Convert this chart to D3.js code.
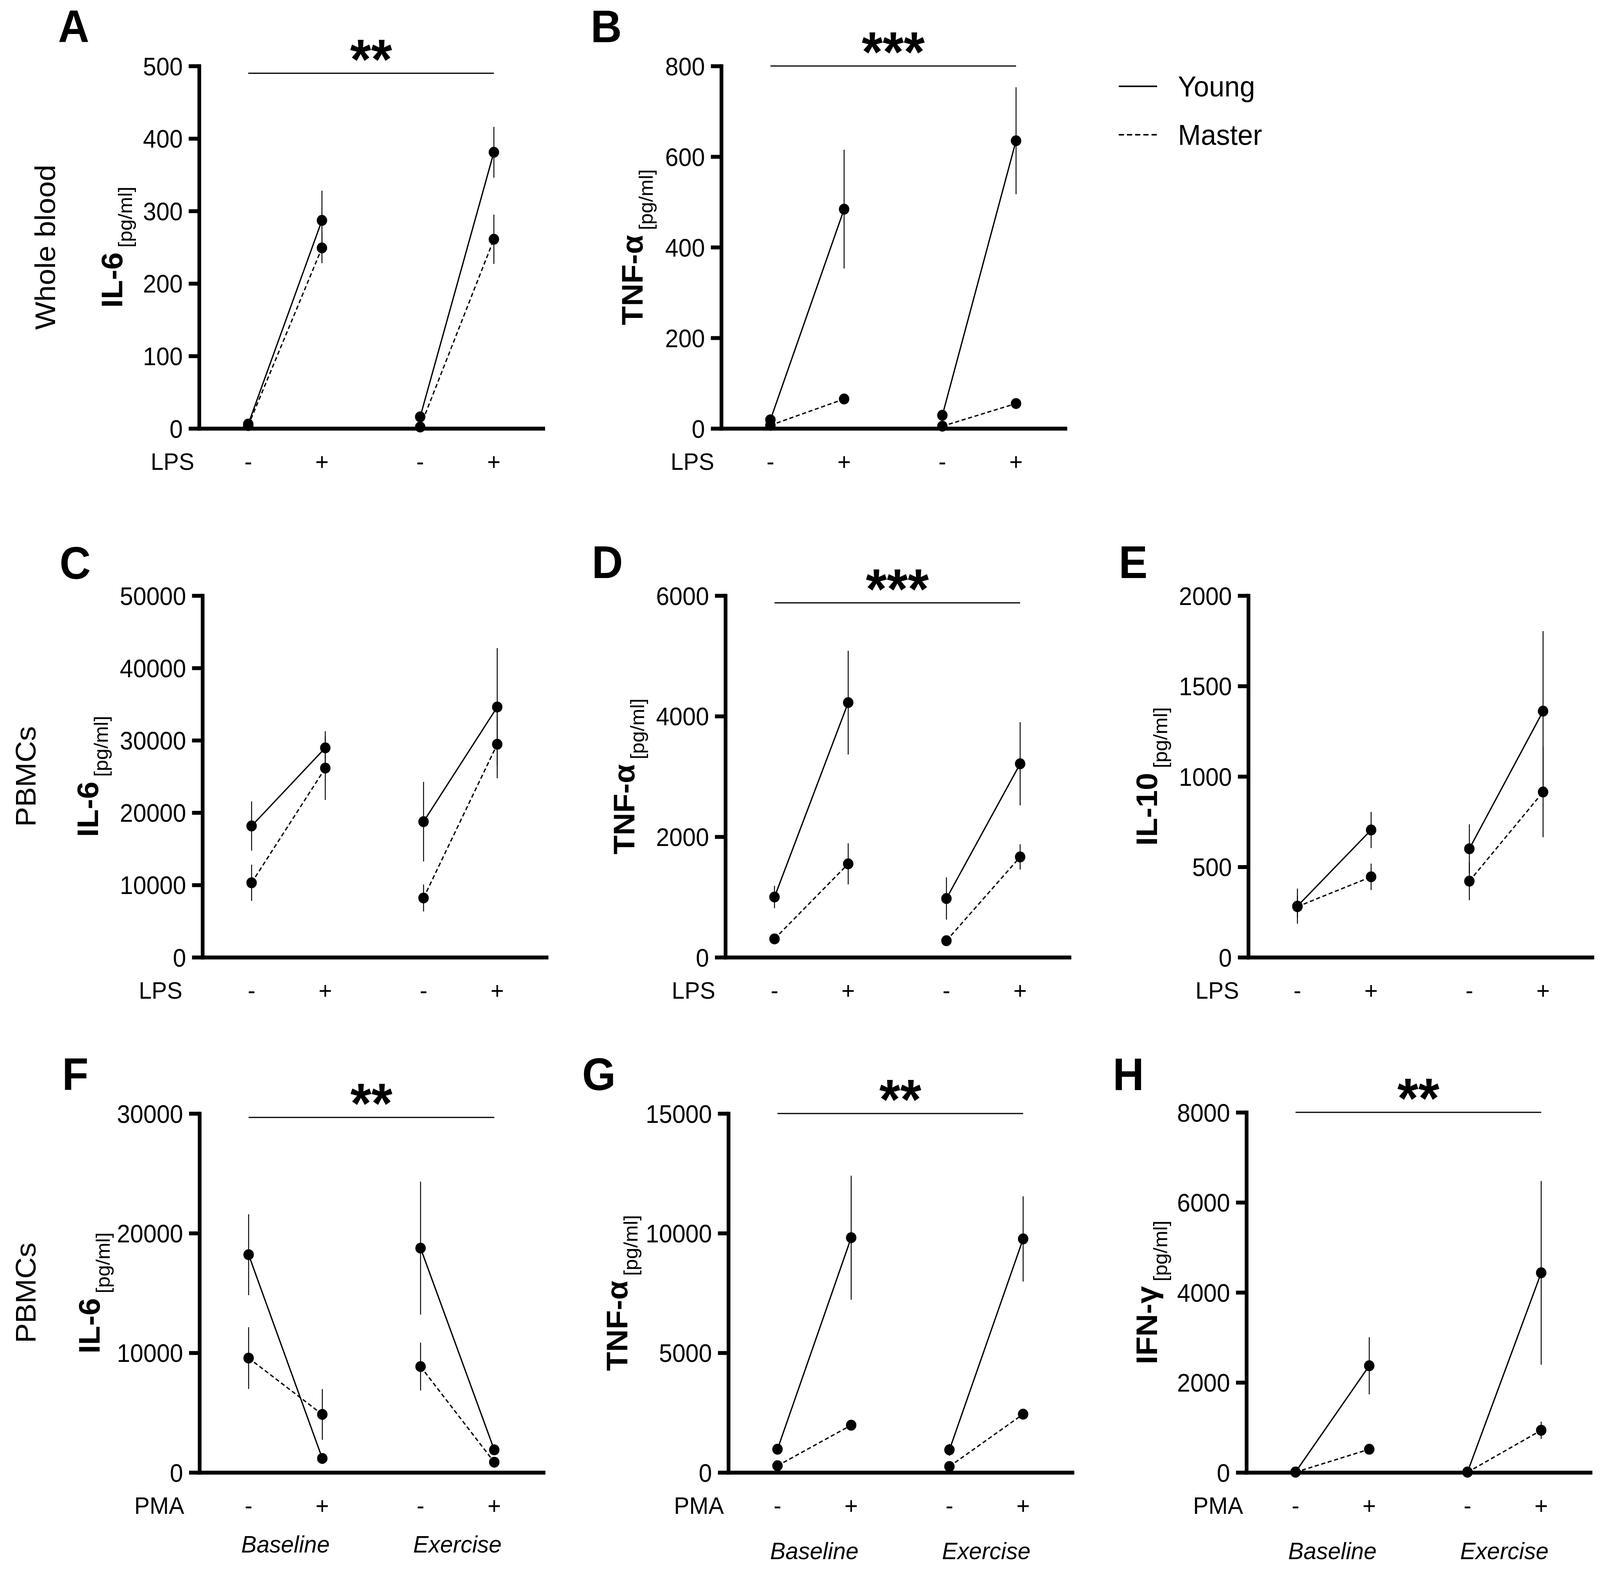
<!DOCTYPE html>
<html>
<head>
<meta charset="utf-8">
<script src="https://cdn.jsdelivr.net/npm/d3@7"></script>
<style>
  html, body { margin: 0; padding: 0; overflow: hidden; background: #fff; }
  svg { display: block; width: 100vw; height: 100vh; font-family: 'Liberation Sans', Arial, Helvetica, sans-serif; }
</style>
</head>
<body>
<div id="chart"></div>
<script>
// categories shared by every panel
const conditions = ['-', '+', '-', '+'];
const sessions = ['Baseline', 'Exercise'];
const groups = ['Young', 'Master'];

// A: IL-6, whole blood, LPS
const aYoung = [6, 287, 16, 381];
const aYoungSem = [3, 41, 4, 35];
const aMaster = [4, 249, 2, 261];
const aMasterSem = [2, 21, 1, 34];
const aTicks = [0, 100, 200, 300, 400, 500];

// B: TNF-α, whole blood, LPS
const bYoung = [19, 484, 29, 635];
const bYoungSem = [5, 131, 6, 118];
const bMaster = [7, 65, 5, 55];
const bMasterSem = [2, 6, 2, 5];
const bTicks = [0, 200, 400, 600, 800];

// C: IL-6, PBMCs, LPS
const cYoung = [18150, 28950, 18750, 34600];
const cYoungSem = [3400, 2300, 5500, 8150];
const cMaster = [10300, 26150, 8200, 29450];
const cMasterSem = [2500, 4400, 1860, 4700];
const cTicks = [0, 10000, 20000, 30000, 40000, 50000];

// D: TNF-α, PBMCs, LPS
const dYoung = [1000, 4225, 975, 3210];
const dYoungSem = [185, 860, 350, 690];
const dMaster = [305, 1550, 275, 1665];
const dMasterSem = [40, 340, 40, 210];
const dTicks = [0, 2000, 4000, 6000];

// E: IL-10, PBMCs, LPS
const eYoung = [283, 704, 600, 1361];
const eYoungSem = [97, 100, 135, 443];
const eMaster = [280, 445, 421, 914];
const eMasterSem = [60, 73, 105, 250];
const eTicks = [0, 500, 1000, 1500, 2000];

// F: IL-6, PBMCs, PMA
const fYoung = [18200, 1170, 18750, 1890];
const fYoungSem = [3380, 200, 5550, 250];
const fMaster = [9560, 4850, 8850, 860];
const fMasterSem = [2580, 2120, 2000, 150];
const fTicks = [0, 10000, 20000, 30000];

// G: TNF-α, PBMCs, PMA
const gYoung = [970, 9810, 945, 9760];
const gYoungSem = [100, 2590, 250, 1780];
const gMaster = [280, 1975, 250, 2435];
const gMasterSem = [50, 150, 50, 150];
const gTicks = [0, 5000, 10000, 15000];

// H: IFN-γ, PBMCs, PMA
const hYoung = [10, 2370, 10, 4435];
const hYoungSem = [0, 635, 0, 2040];
const hMaster = [5, 516, 5, 937];
const hMasterSem = [0, 40, 0, 190];
const hTicks = [0, 2000, 4000, 6000, 8000];

const panels = [
  { id: 'A', title: 'IL-6', stim: 'LPS', ticks: aTicks, young: aYoung, youngSem: aYoungSem, master: aMaster, masterSem: aMasterSem, sig: '**', sigAt: 490 },
  { id: 'B', title: 'TNF-α', stim: 'LPS', ticks: bTicks, young: bYoung, youngSem: bYoungSem, master: bMaster, masterSem: bMasterSem, sig: '***', sigAt: 800 },
  { id: 'C', title: 'IL-6', stim: 'LPS', ticks: cTicks, young: cYoung, youngSem: cYoungSem, master: cMaster, masterSem: cMasterSem },
  { id: 'D', title: 'TNF-α', stim: 'LPS', ticks: dTicks, young: dYoung, youngSem: dYoungSem, master: dMaster, masterSem: dMasterSem, sig: '***', sigAt: 5880 },
  { id: 'E', title: 'IL-10', stim: 'LPS', ticks: eTicks, young: eYoung, youngSem: eYoungSem, master: eMaster, masterSem: eMasterSem },
  { id: 'F', title: 'IL-6', stim: 'PMA', ticks: fTicks, young: fYoung, youngSem: fYoungSem, master: fMaster, masterSem: fMasterSem, sig: '**', sigAt: 29670, sessions: true },
  { id: 'G', title: 'TNF-α', stim: 'PMA', ticks: gTicks, young: gYoung, youngSem: gYoungSem, master: gMaster, masterSem: gMasterSem, sig: '**', sigAt: 15000, sessions: true },
  { id: 'H', title: 'IFN-γ', stim: 'PMA', ticks: hTicks, young: hYoung, youngSem: hYoungSem, master: hMaster, masterSem: hMasterSem, sig: '**', sigAt: 8000, sessions: true },
];

const rowLabels = ['Whole blood', 'PBMCs', 'PBMCs'];

// layout, in units of the 4299 x 4030 figure
const W = 4299, H = 4030;
const axisLen = 924;
const slots = [2, 5, 9, 12]; // where each condition sits on a 0..14 x domain
const layout = {
  A: { x: 535, top: 169, h: 928, letter: [156, 108], titleX: 328, stimX: 522 },
  B: { x: 1938, top: 169, h: 928, letter: [1587, 108], titleX: 1727, stimX: 1919 },
  C: { x: 544, top: 1525, h: 926, letter: [160, 1482], titleX: 263, stimX: 490 },
  D: { x: 1949, top: 1525, h: 926, letter: [1590, 1480], titleX: 1704, stimX: 1922 },
  E: { x: 3354, top: 1525, h: 926, letter: [3006, 1480], titleX: 3109, stimX: 3329 },
  F: { x: 536, top: 2851, h: 919, letter: [167, 2791], titleX: 268, stimX: 495, sessDy: 205 },
  G: { x: 1957, top: 2851, h: 919, letter: [1564, 2791], titleX: 1686, stimX: 1945, sessDy: 222 },
  H: { x: 3349, top: 2848, h: 922, letter: [2990, 2791], titleX: 3109, stimX: 3340, sessDy: 222 },
};
const rowLabelPos = [[148, 633], [95, 1988], [95, 3310]];

// the figure fills the whole window
const svg = d3.select('#chart').append('svg')
  .attr('viewBox', `0 0 ${W} ${H}`)
  .attr('preserveAspectRatio', 'none');

svg.append('rect').attr('width', W).attr('height', H).attr('fill', '#fff');

function drawPanel(p) {
  const L = layout[p.id];
  const g = svg.append('g').attr('transform', `translate(${L.x},${L.top})`);

  const x = d3.scaleLinear().domain([0, 14]).range([0, axisLen]);
  const y = d3.scaleLinear().domain([0, d3.max(p.ticks)]).range([L.h, 0]);

  const yAxis = d3.axisLeft(y)
    .tickValues(p.ticks)
    .tickSize(28)
    .tickSizeOuter(0)
    .tickPadding(16)
    .tickFormat(d3.format('d'));

  const ya = g.append('g').attr('class', 'axis y').call(yAxis);
  ya.attr('font-size', 64).attr('font-family', null);
  ya.select('.domain').attr('stroke-width', 10).attr('stroke-linecap', 'square');
  ya.selectAll('.tick line').attr('stroke-width', 10);
  ya.selectAll('.tick text').attr('fill', '#000').attr('dy', '0.36em');

  const xa = g.append('g')
    .attr('class', 'axis x')
    .attr('transform', `translate(0,${L.h})`)
    .call(d3.axisBottom(x).tickValues([]).tickSizeOuter(0));
  xa.select('.domain').attr('stroke-width', 10).attr('stroke-linecap', 'square');

  // stimulus row under the axis
  g.append('text')
    .attr('x', L.stimX - L.x)
    .attr('y', L.h + 106)
    .attr('text-anchor', 'end')
    .attr('font-size', 62)
    .text(p.stim);

  g.selectAll('text.cond')
    .data(conditions)
    .join('text')
    .attr('class', 'cond')
    .attr('x', (d, i) => x(slots[i]))
    .attr('y', L.h + 106)
    .attr('text-anchor', 'middle')
    .attr('font-size', 62)
    .text((d) => d);

  if (p.sessions) {
    g.selectAll('text.sess')
      .data(sessions)
      .join('text')
      .attr('class', 'sess')
      .attr('x', (d, i) => (x(slots[i * 2]) + x(slots[i * 2 + 1])) / 2)
      .attr('y', L.h + L.sessDy)
      .attr('text-anchor', 'middle')
      .attr('font-size', 62)
      .attr('font-style', 'italic')
      .text((d) => d);
  }

  // y title: bold name with the unit as a subscript
  const title = g.append('text')
    .attr('transform', `translate(${L.titleX - L.x},${L.h / 2}) rotate(-90)`)
    .attr('text-anchor', 'middle');
  title.append('tspan').attr('font-size', 80).attr('font-weight', 'bold').text(p.title);
  title.append('tspan').attr('font-size', 52).attr('dx', 12).attr('dy', 27).text('[pg/ml]');

  const series = [
    { id: groups[0], values: p.young, sem: p.youngSem, dash: null },
    { id: groups[1], values: p.master, sem: p.masterSem, dash: '11,7' },
  ];

  const line = d3.line()
    .x((d) => x(slots[d.i]))
    .y((d) => y(d.v));

  series.forEach((s) => {
    const pts = s.values.map((v, i) => ({ v, i }));
    [pts.slice(0, 2), pts.slice(2, 4)].forEach((seg) => {
      g.append('path')
        .attr('d', line(seg))
        .attr('fill', 'none')
        .attr('stroke', '#000')
        .attr('stroke-width', 3.5)
        .attr('stroke-dasharray', s.dash);
    });
  });

  series.forEach((s) => {
    g.selectAll(null)
      .data(s.values.map((v, i) => ({ v, i, e: s.sem[i] })))
      .join('line')
      .attr('x1', (d) => x(slots[d.i]))
      .attr('x2', (d) => x(slots[d.i]))
      .attr('y1', (d) => y(Math.max(0, d.v - d.e)))
      .attr('y2', (d) => y(d.v + d.e))
      .attr('stroke', '#000')
      .attr('stroke-width', 2.5);
  });

  series.forEach((s) => {
    g.selectAll(null)
      .data(s.values.map((v, i) => ({ v, i })))
      .join('circle')
      .attr('cx', (d) => x(slots[d.i]))
      .attr('cy', (d) => y(d.v))
      .attr('r', 14)
      .attr('fill', '#000');
  });

  if (p.sig) {
    const sy = y(p.sigAt);
    g.append('line')
      .attr('x1', x(slots[0]))
      .attr('x2', x(slots[3]))
      .attr('y1', sy)
      .attr('y2', sy)
      .attr('stroke', '#000')
      .attr('stroke-width', 3);
    g.append('text')
      .attr('x', (x(slots[0]) + x(slots[3])) / 2)
      .attr('y', sy + 14)
      .attr('text-anchor', 'middle')
      .attr('font-size', 145)
      .attr('font-weight', 'bold')
      .text(p.sig);
  }

  svg.append('text')
    .attr('x', L.letter[0])
    .attr('y', L.letter[1])
    .attr('font-size', 116)
    .attr('font-weight', 'bold')
    .text(p.id);
}

panels.forEach(drawPanel);

rowLabels.forEach((d, i) => {
  svg.append('text')
    .attr('transform', `translate(${rowLabelPos[i][0]},${rowLabelPos[i][1]}) rotate(-90)`)
    .attr('text-anchor', 'middle')
    .attr('font-size', 76)
    .text(d);
});

// legend
const legend = svg.append('g').attr('transform', 'translate(3006,0)');
groups.forEach((d, i) => {
  const ly = 221 + i * 124;
  legend.append('line')
    .attr('x1', 0)
    .attr('x2', 103)
    .attr('y1', ly)
    .attr('y2', ly)
    .attr('stroke', '#000')
    .attr('stroke-width', 4)
    .attr('stroke-dasharray', i === 1 ? '14,8' : null);
  legend.append('text')
    .attr('x', 159)
    .attr('y', ly + 26)
    .attr('font-size', 74)
    .text(d);
});
</script>
</body>
</html>
